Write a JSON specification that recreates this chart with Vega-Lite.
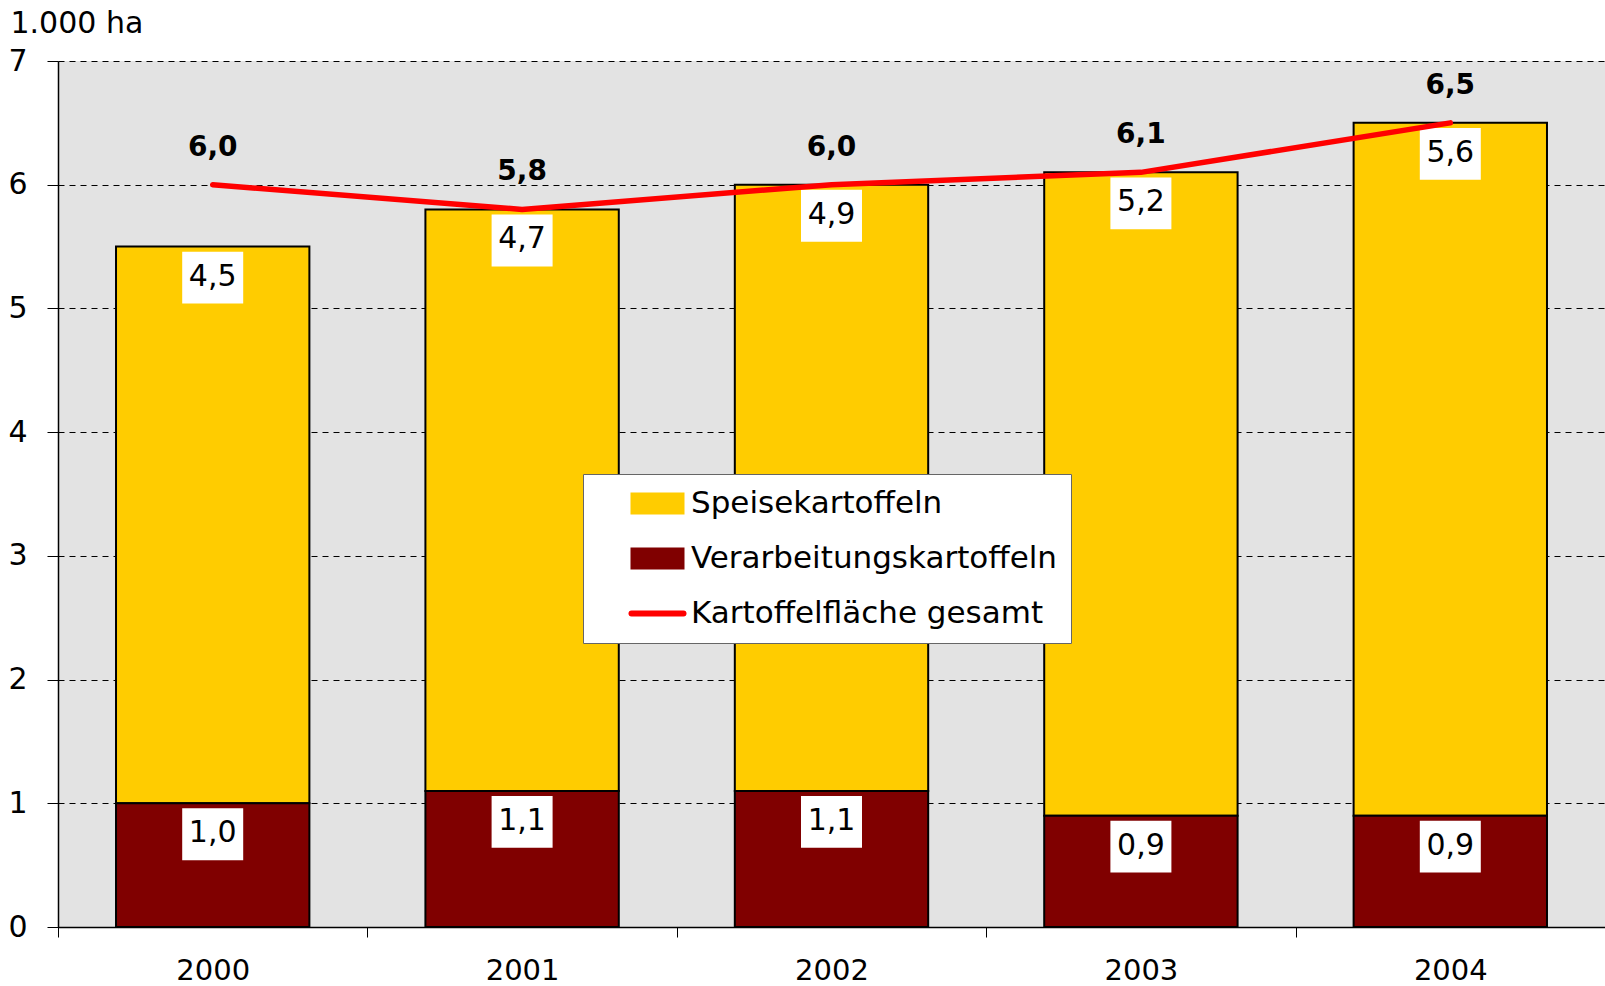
{
  "$schema": "https://vega.github.io/schema/vega-lite/v6.json",
  "width": 1547,
  "height": 866,
  "autosize": {"type": "none"},
  "padding": {"left": 58, "top": 61, "right": 0, "bottom": 59},
  "background": "white",
  "config": {
    "view": {"fill": "#e3e3e3", "stroke": null},
    "font": "DejaVu Sans",
    "locale": {"number": {"decimal": ",", "thousands": ".", "grouping": [3], "currency": ["", " €"]}}
  },
  "datasets": {
    "anbau": [
      {"Jahr": "2000", "Sorte": "Speisekartoffeln", "flaeche": 4.5},
      {"Jahr": "2000", "Sorte": "Verarbeitungskartoffeln", "flaeche": 1.0},
      {"Jahr": "2001", "Sorte": "Speisekartoffeln", "flaeche": 4.7},
      {"Jahr": "2001", "Sorte": "Verarbeitungskartoffeln", "flaeche": 1.1},
      {"Jahr": "2002", "Sorte": "Speisekartoffeln", "flaeche": 4.9},
      {"Jahr": "2002", "Sorte": "Verarbeitungskartoffeln", "flaeche": 1.1},
      {"Jahr": "2003", "Sorte": "Speisekartoffeln", "flaeche": 5.2},
      {"Jahr": "2003", "Sorte": "Verarbeitungskartoffeln", "flaeche": 0.9},
      {"Jahr": "2004", "Sorte": "Speisekartoffeln", "flaeche": 5.6},
      {"Jahr": "2004", "Sorte": "Verarbeitungskartoffeln", "flaeche": 0.9}
    ],
    "gesamt": [
      {"Jahr": "2000", "gesamt": 6.0},
      {"Jahr": "2001", "gesamt": 5.8},
      {"Jahr": "2002", "gesamt": 6.0},
      {"Jahr": "2003", "gesamt": 6.1},
      {"Jahr": "2004", "gesamt": 6.5}
    ]
  },
  "encoding": {
    "x": {
      "field": "Jahr",
      "type": "ordinal",
      "scale": {"paddingInner": 0, "paddingOuter": 0},
      "axis": {
        "title": null,
        "labelAngle": 0,
        "tickBand": "extent",
        "tickSize": 10,
        "tickColor": "black",
        "tickWidth": 1,
        "domainColor": "black",
        "domainWidth": 1.5,
        "labelFontSize": 29,
        "labelFont": "DejaVu Sans",
        "labelColor": "black",
        "labelPadding": 19,
        "grid": false
      }
    }
  },
  "layer": [
    {
      "data": {"name": "anbau"},
      "mark": {"type": "bar", "width": {"band": 0.625}, "stroke": "black", "strokeWidth": 2},
      "encoding": {
        "y": {
          "field": "flaeche",
          "type": "quantitative",
          "stack": "zero",
          "scale": {"domain": [0, 7], "nice": false},
          "axis": {
            "title": "1.000 ha",
            "titleAngle": 0,
            "titleAlign": "left",
            "titleBaseline": "alphabetic",
            "titleX": -48,
            "titleY": -29,
            "titleFontSize": 30,
            "titleFontWeight": "normal",
            "titleFont": "DejaVu Sans",
            "titleColor": "black",
            "values": [0, 1, 2, 3, 4, 5, 6, 7],
            "format": "d",
            "labelFontSize": 30,
            "labelFont": "DejaVu Sans",
            "labelColor": "black",
            "labelPadding": 20,
            "tickSize": 11,
            "tickColor": "black",
            "domainColor": "black",
            "domainWidth": 1.5,
            "grid": true,
            "gridColor": "#000000",
            "gridDash": [6, 5],
            "gridWidth": 1
          }
        },
        "color": {
          "field": "Sorte",
          "type": "nominal",
          "scale": {
            "domain": ["Speisekartoffeln", "Verarbeitungskartoffeln", "Kartoffelfläche gesamt"],
            "range": ["#FFCC00", "#800000", "#FF0000"]
          },
          "legend": {
            "title": null,
            "orient": "none",
            "legendX": 525,
            "legendY": 413,
            "direction": "vertical",
            "fillColor": "white",
            "strokeColor": "#666666",
            "padding": 14,
            "symbolType": "M-1,-0.38H1V0.38H-1Z",
            "symbolSize": 2704,
            "symbolOffset": 45,
            "symbolStrokeWidth": 2,
            "symbolStrokeColor": "black",
            "labelOffset": 18,
            "labelFontSize": 31,
            "labelFont": "DejaVu Sans",
            "labelColor": "black",
            "labelLimit": 800,
            "rowPadding": 23,
            "encode": {
              "legend": {
                "update": {
                  "width": {"value": 490}
                }
              },
              "symbols": {
                "update": {
                  "shape": {"signal": "datum.label === 'Kartoffelfläche gesamt' ? 'stroke' : 'M-1,-0.38H1V0.38H-1Z'"},
                  "stroke": {"signal": "datum.label === 'Kartoffelfläche gesamt' ? '#FF0000' : '#000000'"},
                  "strokeWidth": {"signal": "datum.label === 'Kartoffelfläche gesamt' ? 6 : 2"},
                  "strokeCap": {"value": "round"},
                  "fill": {"signal": "datum.label === 'Kartoffelfläche gesamt' ? 'transparent' : scale('color', datum.value)"},
                  "opacity": {"value": 1},
                  "fillOpacity": {"value": 1},
                  "strokeOpacity": {"value": 1}
                }
              }
            }
          }
        },
        "order": {"field": "Sorte", "sort": "descending"}
      }
    },
    {
      "data": {"name": "anbau"},
      "mark": {
        "type": "point",
        "shape": "M-1,-0.85H1V0.85H-1Z",
        "size": 3721,
        "filled": true,
        "fill": "white",
        "opacity": 1,
        "strokeWidth": 0,
        "yOffset": 31
      },
      "encoding": {
        "y": {"field": "flaeche", "type": "quantitative", "stack": "zero"},
        "detail": {"field": "Sorte"},
        "order": {"field": "Sorte", "sort": "descending"}
      }
    },
    {
      "data": {"name": "anbau"},
      "mark": {
        "type": "text",
        "fontSize": 30,
        "font": "DejaVu Sans",
        "color": "black",
        "baseline": "middle",
        "align": "center",
        "dy": 30
      },
      "encoding": {
        "y": {"field": "flaeche", "type": "quantitative", "stack": "zero"},
        "detail": {"field": "Sorte"},
        "order": {"field": "Sorte", "sort": "descending"},
        "text": {"field": "flaeche", "type": "quantitative", "format": ".1f"}
      }
    },
    {
      "data": {"name": "gesamt"},
      "mark": {"type": "line", "strokeWidth": 5.5, "strokeCap": "round", "strokeJoin": "round"},
      "encoding": {
        "y": {"field": "gesamt", "type": "quantitative"},
        "color": {"datum": "Kartoffelfläche gesamt"}
      }
    },
    {
      "data": {"name": "gesamt"},
      "mark": {
        "type": "text",
        "fontSize": 28,
        "font": "DejaVu Sans",
        "fontWeight": "bold",
        "color": "black",
        "baseline": "middle",
        "align": "center",
        "dy": -37
      },
      "encoding": {
        "y": {"field": "gesamt", "type": "quantitative"},
        "text": {"field": "gesamt", "type": "quantitative", "format": ".1f"}
      }
    }
  ]
}
